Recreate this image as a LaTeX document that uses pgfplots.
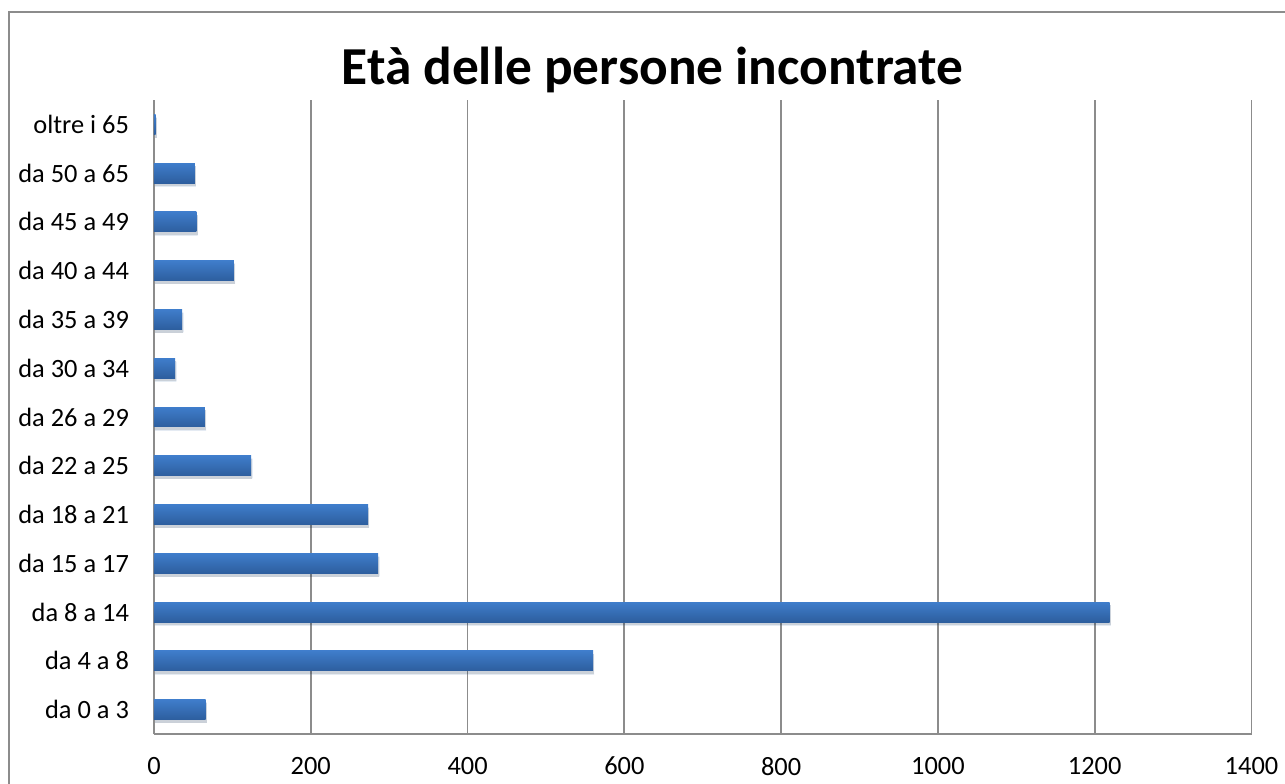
\documentclass[border=0pt]{standalone}
\usepackage{pgfplots}
\pgfplotsset{compat=1.18}
\usepackage{fontspec}
\setmainfont{Carlito}
\usetikzlibrary{shadows}
\definecolor{gridgray}{HTML}{8C8C8C}
\definecolor{barTop}{HTML}{3F7DCB}
\definecolor{barBot}{HTML}{2D5E9E}
\begin{document}
\begin{tikzpicture}[x=1pt,y=1pt]
\draw[gridgray, line width=1pt] (4.5,-10) -- (4.5,385.5) -- (660,385.5);
\node[font=\fontsize{26.7}{31}\selectfont\bfseries] at (326.25,356.5) {Età delle persone incontrate};
\begin{axis}[
  at={(77pt,24.5pt)}, anchor=south west,
  scale only axis, width=548.75pt, height=317pt,
  xbar, bar width=0.41, bar shift=0pt,
  xmin=0, xmax=1400, ymin=-0.5, ymax=12.5,
  xtick={0,200,...,1400},
  ytick={0,...,12},
  yticklabels={da 0 a 3,da 4 a 8,da 8 a 14,da 15 a 17,da 18 a 21,da 22 a 25,da 26 a 29,da 30 a 34,da 35 a 39,da 40 a 44,da 45 a 49,da 50 a 65,oltre i 65},
  xmajorgrids, grid style={draw=gridgray, line width=0.9pt},
  axis x line*=bottom, axis y line*=left,
  axis line style={-, draw=gridgray, line width=0.9pt},
  major tick length=0pt,
  tick style={draw=none},
  ticklabel style={font=\fontsize{13.2}{15}\selectfont},
  /pgf/number format/assume math mode=true,
  /pgf/number format/1000 sep={},
  scaled x ticks=false,
  xticklabel style={yshift=-8pt},
  yticklabel style={xshift=-9pt},
  bars/.style={draw=none, top color=barTop, bottom color=barBot, bar shift=0pt, forget plot,
    drop shadow={shadow xshift=0.6pt, shadow yshift=-1.6pt, fill=black, opacity=0.12}},
]
\addplot[bars] coordinates {(66,0)};
\addplot[bars] coordinates {(560,1)};
\addplot[bars] coordinates {(1219,2)};
\addplot[bars] coordinates {(286,3)};
\addplot[bars] coordinates {(273,4)};
\addplot[bars] coordinates {(124,5)};
\addplot[bars] coordinates {(65,6)};
\addplot[bars] coordinates {(27,7)};
\addplot[bars] coordinates {(36,8)};
\addplot[bars] coordinates {(102,9)};
\addplot[bars] coordinates {(54,10)};
\addplot[bars] coordinates {(52,11)};
\addplot[bars] coordinates {(2,12)};
\end{axis}
\pgfresetboundingbox
\path (0,0) rectangle (642.5,391.5);
\end{tikzpicture}
\end{document}
